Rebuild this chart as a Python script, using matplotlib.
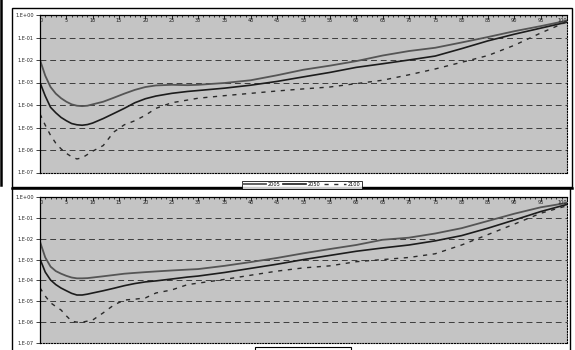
import matplotlib
matplotlib.use("Agg")
import matplotlib.pyplot as plt
import matplotlib.transforms as mtransforms
from matplotlib.ticker import FixedLocator, MultipleLocator, NullFormatter
from matplotlib.lines import Line2D
from matplotlib.patches import Rectangle

# Ages shared by every series
ages = [0, 1, 2, 3, 4, 5, 6, 7, 8, 9, 10, 12, 14, 16, 18, 20, 22, 25, 28, 30,
        35, 40, 45, 50, 55, 60, 65, 70, 75, 80, 85, 90, 95, 100]

years = ["2005", "2050", "2100"]

# Upper panel: death rates by age
top_2005 = [1.0e-2, 2.0e-3, 6.3e-4, 3.2e-4, 2.0e-4, 1.4e-4, 1.07e-4, 9.3e-5, 8.9e-5, 9.3e-5,
            1.07e-4, 1.4e-4, 2.1e-4, 3.2e-4, 4.7e-4, 6.3e-4, 7.4e-4, 7.9e-4, 7.6e-4, 7.9e-4,
            9.5e-4, 1.26e-3, 2.1e-3, 3.7e-3, 5.6e-3, 8.9e-3, 1.58e-2, 2.5e-2, 3.5e-2, 6.0e-2,
            1.05e-1, 1.9e-1, 3.2e-1, 5.6e-1]
top_2050 = [1.0e-3, 2.5e-4, 7.9e-5, 4.5e-5, 2.8e-5, 2.0e-5, 1.5e-5, 1.32e-5, 1.26e-5, 1.35e-5,
            1.58e-5, 2.5e-5, 4.2e-5, 7.1e-5, 1.26e-4, 1.9e-4, 2.5e-4, 3.3e-4, 4.0e-4, 4.4e-4,
            5.6e-4, 7.6e-4, 1.12e-3, 1.78e-3, 2.8e-3, 4.7e-3, 6.8e-3, 1.0e-2, 1.5e-2, 3.2e-2,
            7.1e-2, 1.4e-1, 2.6e-1, 4.8e-1]
top_2100 = [4.0e-5, 1.26e-5, 4.5e-6, 2.0e-6, 1.12e-6, 7.1e-7, 5.0e-7, 4.0e-7, 4.5e-7, 6.3e-7,
            8.9e-7, 1.58e-6, 6.3e-6, 1.32e-5, 2.0e-5, 3.5e-5, 7.1e-5, 1.26e-4, 1.66e-4, 2.0e-4,
            2.6e-4, 3.3e-4, 4.2e-4, 5.2e-4, 6.3e-4, 8.9e-4, 1.26e-3, 2.2e-3, 4.0e-3, 7.9e-3,
            1.58e-2, 4.5e-2, 1.58e-1, 5.0e-1]

# Lower panel: death rates by age
bot_2005 = [7.2e-3, 1.26e-3, 4.6e-4, 2.8e-4, 2.1e-4, 1.66e-4, 1.38e-4, 1.26e-4, 1.26e-4, 1.29e-4,
            1.38e-4, 1.58e-4, 1.82e-4, 2.1e-4, 2.3e-4, 2.5e-4, 2.7e-4, 3.0e-4, 3.3e-4, 3.5e-4,
            5.0e-4, 7.6e-4, 1.2e-3, 2.0e-3, 3.2e-3, 5.0e-3, 8.9e-3, 1.12e-2, 1.78e-2, 3.2e-2,
            7.1e-2, 1.58e-1, 3.2e-1, 5.2e-1]
bot_2050 = [1.07e-3, 2.5e-4, 1.05e-4, 6.3e-5, 4.3e-5, 3.2e-5, 2.4e-5, 2.0e-5, 2.0e-5, 2.2e-5,
            2.5e-5, 3.2e-5, 4.2e-5, 5.6e-5, 7.1e-5, 8.5e-5, 9.5e-5, 1.17e-4, 1.45e-4, 1.62e-4,
            2.4e-4, 3.8e-4, 6.0e-4, 1.0e-3, 1.58e-3, 2.5e-3, 3.6e-3, 5.0e-3, 7.9e-3, 1.41e-2,
            3.2e-2, 7.9e-2, 2.0e-1, 4.4e-1]
bot_2100 = [4.4e-5, 1.78e-5, 8.5e-6, 5.6e-6, 3.8e-6, 2.0e-6, 1.12e-6, 1.0e-6, 1.0e-6, 1.12e-6,
            1.26e-6, 2.8e-6, 6.6e-6, 1.15e-5, 1.26e-5, 1.45e-5, 2.5e-5, 3.5e-5, 6.3e-5, 7.4e-5,
            1.12e-4, 1.78e-4, 2.8e-4, 4.0e-4, 5.0e-4, 7.9e-4, 1.0e-3, 1.26e-3, 1.9e-3, 5.0e-3,
            1.58e-2, 5.0e-2, 1.66e-1, 3.8e-1]

y_ticks = [1e-7, 1e-6, 1e-5, 1e-4, 1e-3, 1e-2, 1e-1, 1e0]
y_tick_labels = ["1.E-07", "1.E-06", "1.E-05", "1.E-04", "1.E-03", "1.E-02", "1.E-01", "1.E+00"]
x_ticks = list(range(0, 101, 5))

W, H = 575, 350
fig = plt.figure(figsize=(W / 100, H / 100), dpi=100)
fig.patch.set_facecolor("white")

styles = [dict(color="#555555", lw=1.3, ls="-"),
          dict(color="#1c1c1c", lw=1.2, ls="-"),
          dict(color="#2a2a2a", lw=1.0, ls=(0, (3, 4)))]


def px_rect(x0, y0, x1, y1):
    return [x0 / W, 1 - y1 / H, (x1 - x0) / W, (y1 - y0) / H]


def draw_panel(rect, series):
    ax = fig.add_axes(rect)
    ax.set_facecolor("#c4c4c4")
    ax.set_yscale("log")
    ax.set_ylim(1e-7, 1e0)
    ax.set_xlim(0, 100)
    for vals, st in zip(series, styles):
        ax.plot(ages, vals, solid_capstyle="round", **st)
    ax.yaxis.set_major_locator(FixedLocator(y_ticks))
    ax.set_yticklabels(y_tick_labels)
    ax.yaxis.set_minor_formatter(NullFormatter())
    ax.tick_params(axis="y", which="minor", left=False)
    ax.tick_params(axis="y", which="major", direction="out", length=3,
                   width=0.6, labelsize=3.6, pad=1.5, colors="#222222")
    ax.grid(axis="y", which="major", color="#3c3c3c", lw=0.7,
            ls=(0, (6, 4)))
    # Age axis runs along the top, with its labels set just inside the plot
    ax.xaxis.tick_top()
    ax.set_xticks(x_ticks)
    ax.xaxis.set_minor_locator(MultipleLocator(1))
    ax.tick_params(axis="x", which="major", direction="in", length=3,
                   width=0.6, labeltop=False, labelbottom=False)
    ax.tick_params(axis="x", which="minor", direction="in", length=1.6,
                   width=0.5, top=True)
    lab_tr = mtransforms.offset_copy(ax.get_xaxis_transform(), fig=fig,
                                     x=0, y=-5.5, units="dots")
    for t in x_ticks:
        ha = "left" if t == 0 else ("right" if t == 100 else "center")
        ax.text(t, 1.0, str(t), transform=lab_tr, ha=ha, va="center",
                fontsize=3.6, color="#222222", clip_on=False)
    ax.spines["top"].set_linewidth(0.9)
    ax.spines["left"].set_linewidth(0.9)
    for s in ("bottom", "right"):
        ax.spines[s].set_linewidth(0.8)
        ax.spines[s].set_linestyle((0, (1, 1.5)))
    return ax


ax_top = draw_panel(px_rect(40, 15, 567, 172.5), [top_2005, top_2050, top_2100])
ax_bot = draw_panel(px_rect(40, 197, 567, 343), [bot_2005, bot_2050, bot_2100])

handles = [Line2D([], [], **st) for st in styles]
leg1 = fig.legend(handles, years, loc="center", ncol=3, fontsize=3.6,
                  frameon=True, fancybox=False, handlelength=4.5,
                  handletextpad=0.4, columnspacing=0.6, borderpad=0.3,
                  edgecolor="black", facecolor="white",
                  bbox_to_anchor=(302 / W, 1 - 184.5 / H))
leg1.get_frame().set_linewidth(0.7)

# Legend box of the lower chart, running past the bottom edge
fig.add_artist(Rectangle((255 / W, 1 - 360 / H), 96 / W, 13 / H,
                         transform=fig.transFigure, facecolor="white",
                         edgecolor="black", lw=0.8))

# Chart frames
fig.add_artist(Rectangle((12 / W, 1 - 187 / H), 560 / W, 179 / H,
                         transform=fig.transFigure, fill=False,
                         edgecolor="black", lw=1.0))
fig.add_artist(Rectangle((12 / W, 1 - 352 / H), 558 / W, 164 / H,
                         transform=fig.transFigure, fill=False,
                         edgecolor="black", lw=1.0))
fig.add_artist(Line2D([12 / W, 572 / W], [1 - 187.5 / H, 1 - 187.5 / H],
                      transform=fig.transFigure, color="black", lw=1.8))
fig.add_artist(Line2D([1.2 / W, 1.2 / W], [1 - 185 / H, 1.0],
                      transform=fig.transFigure, color="black", lw=1.8))

fig.savefig("out.png", dpi=100)
